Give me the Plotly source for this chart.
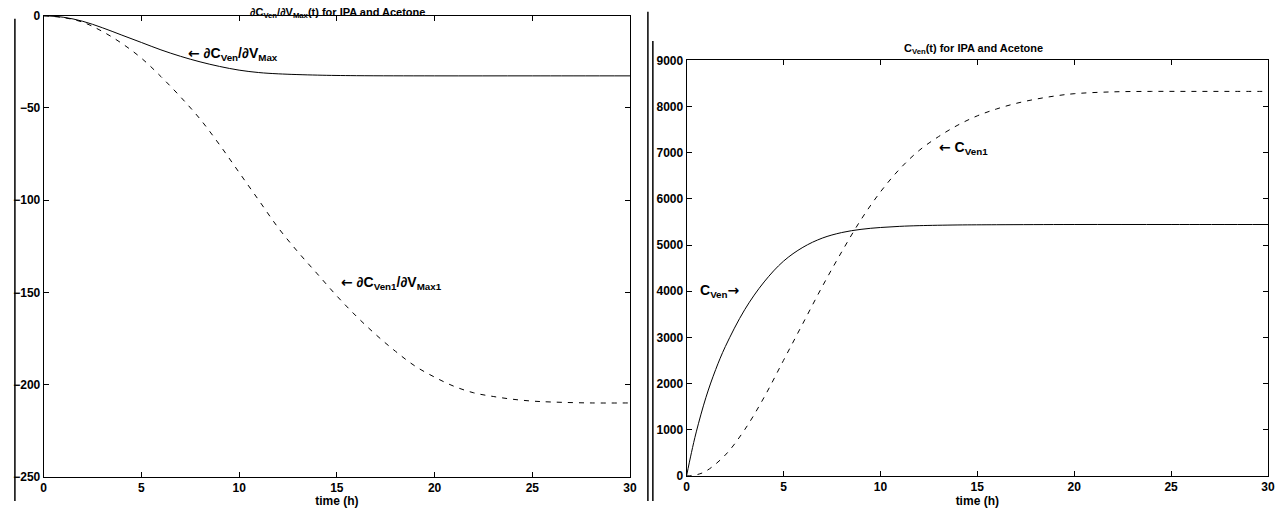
import plotly.graph_objects as go

# ---- data ----
t_sens_solid = [0, 1, 2, 3, 4, 5, 6, 7, 8, 9, 10, 11, 12, 14, 16, 20, 25, 30]
sens_solid = [0, -0.8, -3, -6.5, -10.5, -14.5, -18.5, -22, -25, -27.5, -29.5, -30.8, -31.5, -32.2, -32.5, -32.6, -32.6, -32.6]

t_sens_dash = [0, 1, 2, 3, 4, 5, 6, 7, 8, 9, 10, 11, 12, 13, 14, 15, 16, 17, 18, 19, 20, 21, 22, 23, 24, 25, 26, 28, 30]
sens_dash = [0, -1, -3.5, -8.5, -15, -23, -33, -44, -56, -70, -85, -100, -115, -128, -140, -152, -163, -173, -182, -190, -196, -201, -204.5, -206.5, -208, -209, -209.5, -210, -210]

t_c_solid = [0, 0.25, 0.5, 1, 1.5, 2, 3, 4, 5, 6, 7, 8, 9, 10, 11, 12, 14, 16, 20, 25, 30]
c_solid = [0, 500, 950, 1700, 2300, 2800, 3600, 4200, 4650, 4950, 5150, 5270, 5340, 5380, 5405, 5420, 5435, 5440, 5445, 5445, 5445]

t_c_dash = [0, 0.5, 1, 2, 3, 4, 5, 6, 7, 8, 9, 10, 11, 12, 13, 14, 15, 16, 17, 18, 19, 20, 22, 24, 26, 28, 30]
c_dash = [0, 20, 100, 450, 1000, 1700, 2500, 3300, 4100, 4850, 5550, 6150, 6650, 7050, 7350, 7600, 7800, 7950, 8070, 8160, 8230, 8280, 8320, 8330, 8330, 8330, 8330]

x_ticks = [0, 5, 10, 15, 20, 25, 30]
left_y_ticks = [0, -50, -100, -150, -200, -250]
right_y_ticks = [0, 1000, 2000, 3000, 4000, 5000, 6000, 7000, 8000, 9000]

W, H = 1275, 508
FONT = "Liberation Sans, Arial, sans-serif"

fig = go.Figure()
fig.add_trace(go.Scatter(x=t_sens_solid, y=sens_solid, mode="lines", line=dict(color="black", width=1, shape="spline"), xaxis="x", yaxis="y", showlegend=False))
fig.add_trace(go.Scatter(x=t_sens_dash, y=sens_dash, mode="lines", line=dict(color="black", width=1, dash="5px,6px", shape="spline"), xaxis="x", yaxis="y", showlegend=False))
fig.add_trace(go.Scatter(x=t_c_solid, y=c_solid, mode="lines", line=dict(color="black", width=1, shape="spline"), xaxis="x2", yaxis="y2", showlegend=False))
fig.add_trace(go.Scatter(x=t_c_dash, y=c_dash, mode="lines", line=dict(color="black", width=1, dash="5px,6px", shape="spline"), xaxis="x2", yaxis="y2", showlegend=False))


def px_x(p):
    return min(1.0, p / W)


def px_y(p):
    return 1 - p / H


tickfont = dict(family=FONT, size=12, color="black", weight="bold")
axis_common = dict(showgrid=False, zeroline=False, showline=True, linecolor="black", linewidth=1,
                   mirror="ticks", ticks="inside", ticklen=5, tickcolor="black", tickfont=tickfont)
xtitle = dict(text="time (h)", standoff=0, font=dict(family=FONT, size=12, weight="bold"))

fig.update_layout(
    width=W, height=H, margin=dict(l=0, r=0, t=0, b=0),
    paper_bgcolor="white", plot_bgcolor="white",
    font=dict(family=FONT, size=12, color="black"),
    xaxis=dict(domain=[px_x(41), px_x(632)], range=[0, 30], tickvals=x_ticks, anchor="y", title=xtitle, **axis_common),
    yaxis=dict(domain=[px_y(483), px_y(9)], range=[-250, 0], tickvals=left_y_ticks, anchor="x", **axis_common),
    xaxis2=dict(domain=[px_x(689), px_x(1276)], range=[0, 30], tickvals=x_ticks, anchor="y2", title=xtitle, **axis_common),
    yaxis2=dict(domain=[px_y(482), px_y(55)], range=[0, 9000], tickvals=right_y_ticks, anchor="x2", **axis_common),
)

LA = '<span style="font-family:DejaVu Sans">←</span>'
RA = '<span style="font-family:DejaVu Sans">→</span>'
afont = dict(family=FONT, size=14, weight="bold")
tfont = dict(family=FONT, size=11, weight="bold")
ann = [
    dict(text="∂C<sub>Ven</sub>/∂V<sub>Max</sub>(t) for IPA and Acetone", xref="paper", yref="paper",
         x=px_x(337), y=px_y(6), xanchor="center", yanchor="middle", showarrow=False, font=tfont),
    dict(text="C<sub>Ven</sub>(t) for IPA and Acetone", xref="paper", yref="paper",
         x=px_x(978), y=px_y(43), xanchor="center", yanchor="middle", showarrow=False, font=tfont),
    dict(text=LA + " ∂C<sub>Ven</sub>/∂V<sub>Max</sub>", xref="x", yref="y", x=7.3, y=-21,
         xanchor="left", yanchor="middle", showarrow=False, font=afont),
    dict(text=LA + " ∂C<sub>Ven1</sub>/∂V<sub>Max1</sub>", xref="x", yref="y", x=15.1, y=-145,
         xanchor="left", yanchor="middle", showarrow=False, font=afont),
    dict(text="C<sub>Ven</sub>" + RA, xref="x2", yref="y2", x=0.6, y=4000,
         xanchor="left", yanchor="middle", showarrow=False, font=afont),
    dict(text=LA + " C<sub>Ven1</sub>", xref="x2", yref="y2", x=12.9, y=7100,
         xanchor="left", yanchor="middle", showarrow=False, font=afont),
]
fig.update_layout(annotations=ann)

shapes = []
for xp, y0, y1 in [(12, 12, 508), (650, 5, 508), (655, 35, 508)]:
    shapes.append(dict(type="line", xref="paper", yref="paper", x0=px_x(xp), x1=px_x(xp),
                       y0=px_y(y1), y1=px_y(y0), line=dict(color="black", width=1.5)))
fig.update_layout(shapes=shapes)

fig.write_html("out.html")
